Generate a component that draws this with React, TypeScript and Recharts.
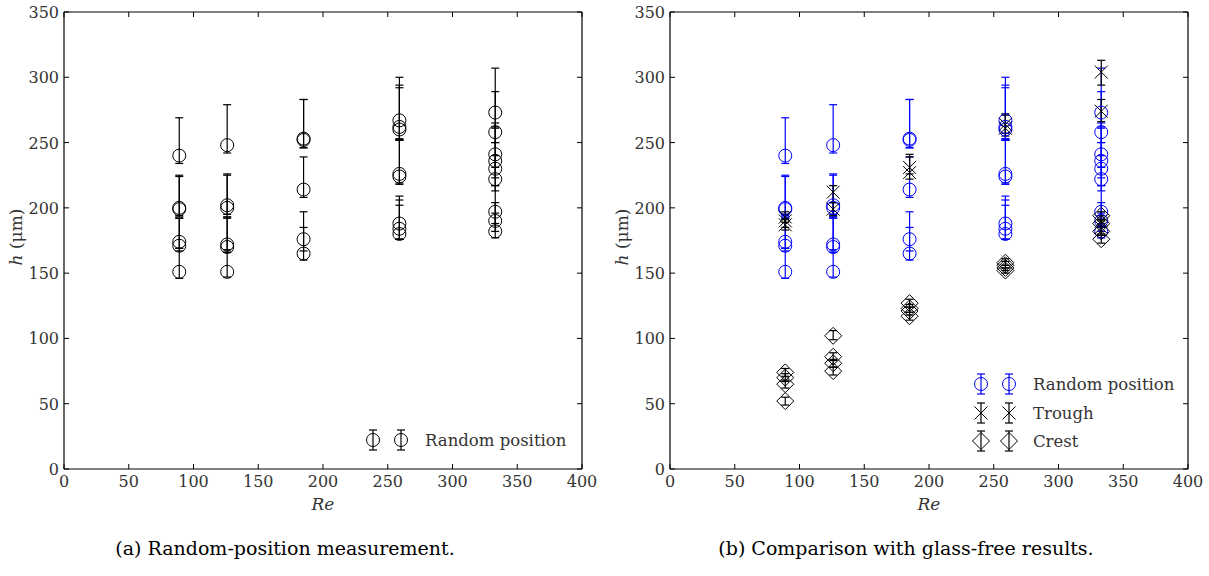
import React from 'react';
import { ScatterChart, Scatter, XAxis, YAxis, ErrorBar } from 'recharts';

// Reynolds numbers of the five measurement groups
const reGroups = [89, 126, 185, 259, 333];

// random-position film thickness h (um), one list per Re group
const randomH = [
  [240, 200, 199, 174, 171, 151],
  [248, 202, 200, 172, 170, 151],
  [253, 252, 214, 176, 165],
  [267, 262, 260, 226, 224, 188, 184, 180],
  [273, 258, 241, 236, 230, 222, 197, 190, 182],
];
// [below, above] error for each point
const randomErr = [
  [[6, 29], [7, 24], [5, 26], [5, 18], [4, 21], [5, 18]],
  [[6, 31], [7, 24], [7, 25], [4, 21], [4, 22], [4, 15]],
  [[7, 30], [6, 31], [6, 25], [9, 21], [5, 20]],
  [[14, 33], [10, 32], [8, 32], [7, 26], [6, 28], [12, 21], [8, 22], [4, 22]],
  [[12, 34], [8, 31], [10, 24], [13, 26], [13, 20], [9, 18], [9, 20], [8, 14], [5, 14]],
];

const troughH = [
  [193, 190, 187],
  [212, 199],
  [231, 227],
  [264, 261],
  [304, 274, 190, 185],
];
const troughErr = [
  [[4, 4], [5, 5], [4, 4]],
  [[8, 5], [5, 5]],
  [[5, 10], [5, 12]],
  [[7, 8], [6, 10]],
  [[10, 9], [8, 9], [4, 4], [5, 5]],
];

const crestH = [
  [74, 70, 65, 52],
  [102, 86, 81, 75],
  [127, 123, 121, 117],
  [158, 156, 154, 152],
  [194, 188, 182, 176],
];
const crestErr = [
  [[3, 3], [3, 3], [3, 3], [3, 3]],
  [[3, 4], [3, 3], [3, 3], [3, 3]],
  [[3, 3], [3, 3], [3, 3], [3, 3]],
  [[2, 3], [2, 3], [2, 2], [2, 2]],
  [[3, 3], [3, 3], [3, 3], [3, 3]],
];

const xTicks = [0, 50, 100, 150, 200, 250, 300, 350, 400];
const yTicks = [0, 50, 100, 150, 200, 250, 300, 350];

const BLUE = '#0000ff';
// DejaVu Serif is the only serif face available here
const serifStyle = { fontFamily: "'DejaVu Serif', serif" };

type Row = { re: number; h: number; err: number[] };

function toRows(h: number[][], err: number[][][]): Row[] {
  const rows: Row[] = [];
  h.forEach((list, g) => list.forEach((v, i) => rows.push({ re: reGroups[g], h: v, err: err[g][i] })));
  return rows;
}

const randomRows = toRows(randomH, randomErr);
const troughRows = toRows(troughH, troughErr);
const crestRows = toRows(crestH, crestErr);

type Kind = 'circle' | 'x' | 'diamond';

function glyph(kind: Kind, x: number, y: number, color: string) {
  if (kind === 'circle') return <circle cx={x} cy={y} r={6.5} fill="none" stroke={color} strokeWidth={1} />;
  if (kind === 'x')
    return (
      <path
        d={`M${x - 6.5},${y - 6.5}L${x + 6.5},${y + 6.5}M${x - 6.5},${y + 6.5}L${x + 6.5},${y - 6.5}`}
        stroke={color}
        strokeWidth={1}
        fill="none"
      />
    );
  return (
    <path
      d={`M${x},${y - 8.5}L${x + 8.5},${y}L${x},${y + 8.5}L${x - 8.5},${y}Z`}
      stroke={color}
      strokeWidth={1}
      fill="none"
    />
  );
}

const shapeOf = (kind: Kind, color: string) => (p: any) => glyph(kind, p.cx, p.cy, color);

const BottomTick = (p: any) => (
  <g>
    <line x1={p.x} y1={p.y} x2={p.x} y2={p.y - 5} stroke="#000" />
    <text x={p.x} y={p.y + 18} textAnchor="middle" fontSize={16} style={serifStyle} fill="#333">
      {p.payload.value}
    </text>
  </g>
);
const TopTick = (p: any) => <line x1={p.x} y1={p.y} x2={p.x} y2={p.y + 5} stroke="#000" />;
const LeftTick = (p: any) => (
  <g>
    <line x1={p.x} y1={p.y} x2={p.x + 5} y2={p.y} stroke="#000" />
    <text x={p.x - 5} y={p.y + 6} textAnchor="end" fontSize={16} style={serifStyle} fill="#333">
      {p.payload.value}
    </text>
  </g>
);
const RightTick = (p: any) => <line x1={p.x} y1={p.y} x2={p.x - 5} y2={p.y} stroke="#000" />;

interface SeriesDef {
  name: string;
  rows: Row[];
  kind: Kind;
  color: string;
}

const axisLine = { stroke: '#000', strokeWidth: 1.2 };

function Panel({ series, left }: { series: SeriesDef[]; left: number }) {
  return (
    <div style={{ position: 'absolute', left, top: 0 }}>
      <ScatterChart width={600} height={520} margin={{ top: 11, right: 17, bottom: 50, left: 63 }}>
        <XAxis
          type="number"
          dataKey="re"
          domain={[0, 400]}
          ticks={xTicks}
          interval={0}
          allowDataOverflow
          height={1}
          tickSize={0}
          tickMargin={0}
          tickLine={false}
          tick={<BottomTick />}
          axisLine={axisLine}
        />
        <XAxis
          xAxisId="top"
          orientation="top"
          type="number"
          dataKey="re"
          domain={[0, 400]}
          ticks={xTicks}
          interval={0}
          allowDataOverflow
          height={1}
          tickSize={0}
          tickMargin={0}
          tickLine={false}
          tick={<TopTick />}
          axisLine={axisLine}
        />
        <YAxis
          type="number"
          dataKey="h"
          domain={[0, 350]}
          ticks={yTicks}
          interval={0}
          allowDataOverflow
          width={1}
          tickSize={0}
          tickMargin={0}
          tickLine={false}
          tick={<LeftTick />}
          axisLine={axisLine}
        />
        <YAxis
          yAxisId="right"
          orientation="right"
          type="number"
          dataKey="h"
          domain={[0, 350]}
          ticks={yTicks}
          interval={0}
          allowDataOverflow
          width={1}
          tickSize={0}
          tickMargin={0}
          tickLine={false}
          tick={<RightTick />}
          axisLine={axisLine}
        />
        {series.map((s) => (
          <Scatter key={s.name} name={s.name} data={s.rows} shape={shapeOf(s.kind, s.color)} isAnimationActive={false}>
            <ErrorBar dataKey="err" direction="y" width={4} stroke={s.color} strokeWidth={1.2} isAnimationActive={false} />
          </Scatter>
        ))}
      </ScatterChart>
    </div>
  );
}

function LegendRow({ x, y, kind, color, label }: { x: number; y: number; kind: Kind; color: string; label: string }) {
  const mark = (cx: number) => (
    <g>
      <line x1={cx} y1={y - 10} x2={cx} y2={y + 10} stroke={color} strokeWidth={1.2} />
      <line x1={cx - 4} y1={y - 10} x2={cx + 4} y2={y - 10} stroke={color} strokeWidth={1.2} />
      <line x1={cx - 4} y1={y + 10} x2={cx + 4} y2={y + 10} stroke={color} strokeWidth={1.2} />
      {glyph(kind, cx, y, color)}
    </g>
  );
  return (
    <g>
      {mark(x)}
      {mark(x + 28)}
      <text x={x + 52} y={y + 6} fontSize={16.5} style={serifStyle} fill="#333">
        {label}
      </text>
    </g>
  );
}

function AxisLabels({ dx }: { dx: number }) {
  return (
    <g style={serifStyle} fill="#333" fontSize={17}>
      <text x={323 + dx} y={510} textAnchor="middle" fontStyle="italic">
        Re
      </text>
      <text x={22 + dx} y={237} textAnchor="middle" transform={`rotate(-90 ${22 + dx} 237)`}>
        <tspan fontStyle="italic">h</tspan> (μm)
      </text>
    </g>
  );
}

export default function App() {
  return (
    <div style={{ position: 'absolute', left: 0, top: 0, width: 1209, height: 576, background: '#fff' }}>
      <Panel left={0} series={[{ name: 'Random position', rows: randomRows, kind: 'circle', color: '#000' }]} />
      <Panel
        left={606}
        series={[
          { name: 'Random position', rows: randomRows, kind: 'circle', color: BLUE },
          { name: 'Trough', rows: troughRows, kind: 'x', color: '#000' },
          { name: 'Crest', rows: crestRows, kind: 'diamond', color: '#000' },
        ]}
      />
      <svg width={1209} height={576} style={{ position: 'absolute', left: 0, top: 0, pointerEvents: 'none' }}>
        <AxisLabels dx={0} />
        <AxisLabels dx={606} />
        <LegendRow x={373} y={440} kind="circle" color="#000" label="Random position" />
        <LegendRow x={981} y={384} kind="circle" color={BLUE} label="Random position" />
        <LegendRow x={981} y={413} kind="x" color="#000" label="Trough" />
        <LegendRow x={981} y={441} kind="diamond" color="#000" label="Crest" />
        <text x={285} y={555} textAnchor="middle" fontSize={19} style={serifStyle} fill="#000">
          (a) Random-position measurement.
        </text>
        <text x={906} y={555} textAnchor="middle" fontSize={19} style={serifStyle} fill="#000">
          (b) Comparison with glass-free results.
        </text>
      </svg>
    </div>
  );
}
